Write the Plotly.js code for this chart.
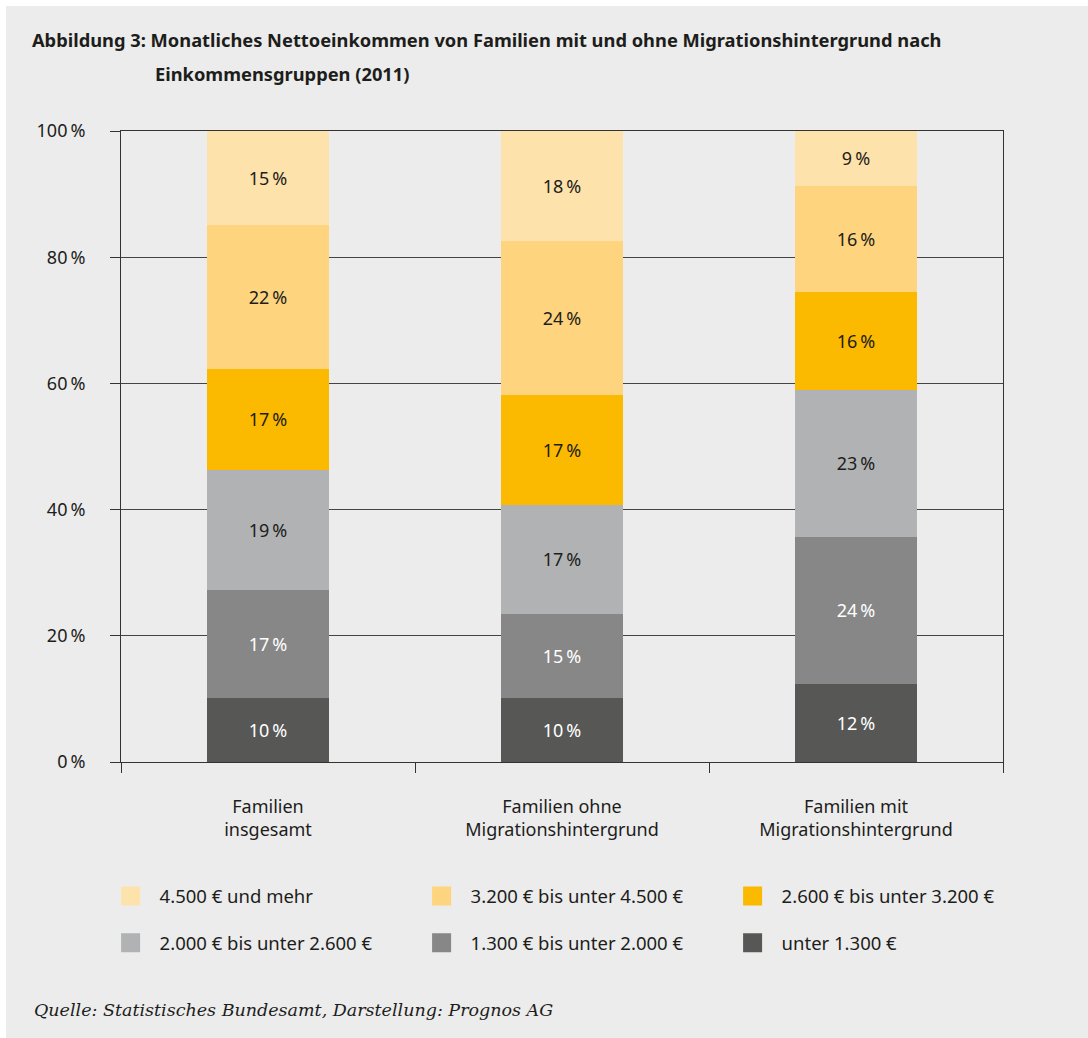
<!DOCTYPE html>
<html>
<head>
<meta charset="utf-8">
<script src="https://cdn.plot.ly/plotly-3.0.1.min.js"></script>
<style>
  html, body { margin: 0; padding: 0; background: #ffffff; }
  #chart { position: absolute; left: 6px; top: 6px; width: 1082px; height: 1032px; }
</style>
</head>
<body>
<div id="chart"></div>
<script>
// ---- data ----
const categories = ["Familien<br>insgesamt", "Familien ohne<br>Migrationshintergrund", "Familien mit<br>Migrationshintergrund"];

const seriesNames = ["unter 1.300 €", "1.300 € bis unter 2.000 €", "2.000 € bis unter 2.600 €",
                     "2.600 € bis unter 3.200 €", "3.200 € bis unter 4.500 €", "4.500 € und mehr"];

// segment heights as drawn (percent), bottom to top
const unter1300 = [10.2, 10.2, 12.4];
const von1300   = [17.1, 13.3, 23.3];
const von2000   = [19.0, 17.3, 23.3];
const von2600   = [16.0, 17.3, 15.5];
const von3200   = [22.8, 24.5, 16.8];
const ab4500    = [14.9, 17.4,  8.7];

// printed segment labels
const labUnter1300 = [10, 10, 12];
const lab1300      = [17, 15, 24];
const lab2000      = [19, 17, 23];
const lab2600      = [17, 17, 16];
const lab3200      = [22, 24, 16];
const lab4500      = [15, 18,  9];

const yTickVals = [0, 20, 40, 60, 80, 100];

// ---- styling ----
const colors = ["#575756", "#878787", "#b1b2b3", "#fbb900", "#fed47e", "#fee2ab"];
const textColors = ["#ffffff", "#ffffff", "#1d1d1b", "#1d1d1b", "#1d1d1b", "#1d1d1b"];
const legendOf = ["legend2", "legend2", "legend2", "legend", "legend", "legend"];
const FONT = "Noto Sans, Open Sans, sans-serif";
const DARK = "#1d1d1b";

const values = [unter1300, von1300, von2000, von2600, von3200, ab4500];
const labels = [labUnter1300, lab1300, lab2000, lab2600, lab3200, lab4500];

const traces = values.map((v, i) => ({
  type: "bar",
  name: seriesNames[i],
  x: categories,
  y: v,
  text: labels[i].map(l => l + "\u2009%"),
  texttemplate: "%{text}",
  textposition: "inside",
  insidetextanchor: "middle",
  textangle: 0,
  constraintext: "none",
  insidetextfont: { family: FONT, size: 18, color: textColors[i] },
  marker: { color: colors[i], line: { width: 0 } },
  legend: legendOf[i],
  hoverinfo: "skip"
}));

const legendCommon = {
  orientation: "h",
  traceorder: "reversed",
  xref: "paper", yref: "paper",
  xanchor: "left", yanchor: "middle",
  x: -0.022,
  bgcolor: "rgba(0,0,0,0)",
  borderwidth: 0,
  font: { family: FONT, size: 18.5, color: DARK },
  itemwidth: 48,
  entrywidth: 248,
  entrywidthmode: "pixels",
  itemclick: false, itemdoubleclick: false
};

const layout = {
  width: 1082,
  height: 1032,
  paper_bgcolor: "#ececec",
  plot_bgcolor: "rgba(0,0,0,0)",
  margin: { l: 115, r: 85, t: 125, b: 276, pad: 0 },
  barmode: "stack",
  bargap: 0.582,
  font: { family: FONT, size: 18, color: DARK },
  title: {
    text: "Abbildung 3: Monatliches Nettoeinkommen von Familien mit und ohne Migrationshintergrund nach",
    font: { family: FONT, size: 18.3, color: DARK, weight: "bold" },
    xref: "container", yref: "container",
    x: 0.024, xanchor: "left",
    y: 0.9661, yanchor: "middle"
  },
  xaxis: {
    type: "category",
    tickson: "boundaries",
    ticks: "outside",
    ticklen: 10,
    tickwidth: 1,
    tickcolor: "#333333",
    showline: true,
    linecolor: "#333333",
    linewidth: 1,
    mirror: true,
    showgrid: false,
    ticklabelstandoff: 28,
    tickfont: { family: FONT, size: 18, color: DARK },
    fixedrange: true
  },
  yaxis: {
    range: [0, 100],
    tickvals: yTickVals,
    ticktext: yTickVals.map(v => v + "\u2009%"),
    ticks: "outside",
    ticklen: 10,
    tickwidth: 1,
    tickcolor: "#333333",
    showline: true,
    linecolor: "#333333",
    linewidth: 1,
    mirror: true,
    showgrid: true,
    gridcolor: "#444444",
    gridwidth: 1,
    zeroline: false,
    ticklabelstandoff: 21,
    tickfont: { family: FONT, size: 18, color: DARK },
    fixedrange: true
  },
  legend: Object.assign({}, legendCommon, { y: -0.2132 }),
  legend2: Object.assign({}, legendCommon, { y: -0.2873 }),
  annotations: [
    {
      text: "<b>Einkommensgruppen (2011)</b>",
      xref: "paper", yref: "paper",
      x: 0.0363, y: 1.0919,
      xanchor: "left", yanchor: "middle",
      showarrow: false,
      font: { family: FONT, size: 18.3, color: DARK }
    },
    {
      text: "<i>Quelle: Statistisches Bundesamt, Darstellung: Prognos AG</i>",
      xref: "paper", yref: "paper",
      x: -0.1009, y: -0.393,
      xanchor: "left", yanchor: "middle",
      showarrow: false,
      font: { family: "DejaVu Serif, Liberation Serif, serif", size: 17.5, color: DARK }
    }
  ],
  showlegend: true
};

Plotly.newPlot("chart", traces, layout, { staticPlot: true, displayModeBar: false }).then(() => {
  document.querySelectorAll("#chart .legendpoints path").forEach(p => {
    p.setAttribute("d", "M9.5,9.5H-9.5V-9.5H9.5Z");
  });
});
</script>
</body>
</html>
